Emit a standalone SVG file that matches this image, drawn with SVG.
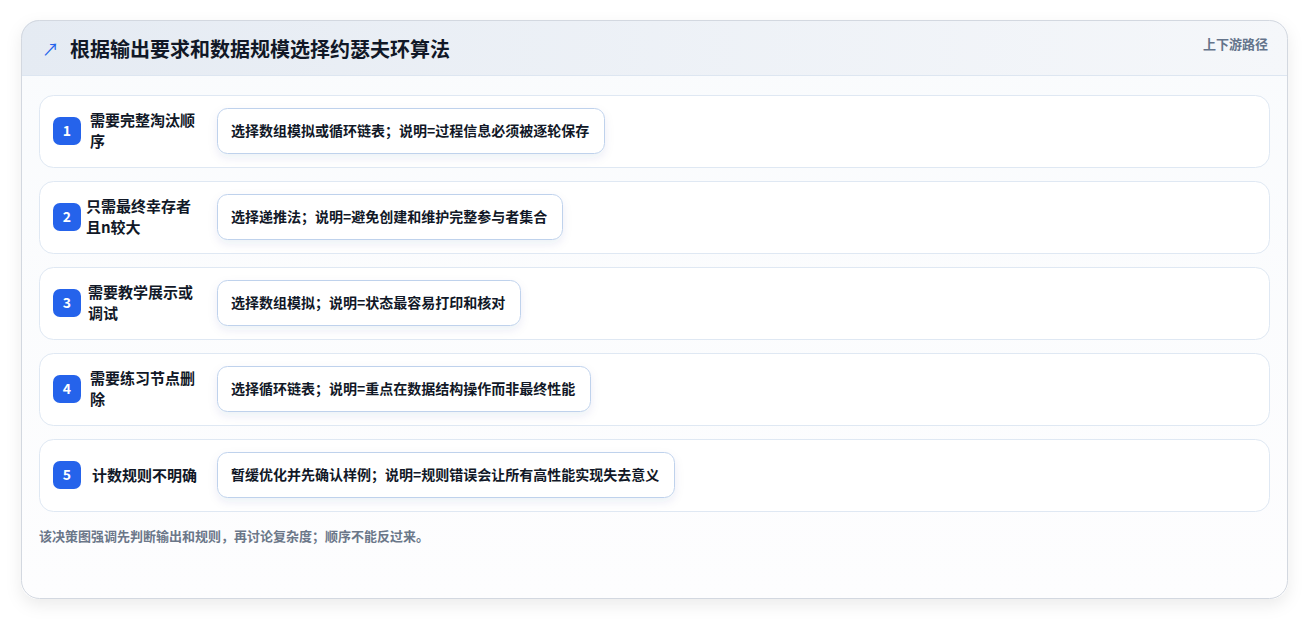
<svg xmlns="http://www.w3.org/2000/svg" width="1309" height="620" viewBox="0 0 1309 620">
<defs>
<style>
text{font-family:"Noto Sans CJK SC","Noto Sans",sans-serif;}
.title{font-size:20px;font-weight:700;fill:#111827;}
.tag{font-size:13px;font-weight:600;fill:#64748b;}
.row{fill:#ffffff;stroke:#dfe8f3;stroke-width:1;}
.badge{fill:#2563eb;}
.num{font-size:14px;font-weight:700;fill:#ffffff;text-anchor:middle;}
.lbl{font-size:15px;font-weight:700;fill:#111827;}
.box{fill:#ffffff;stroke:#bfd2ec;stroke-width:1;}
.btxt{font-size:14px;font-weight:700;fill:#111827;}
.foot{font-size:13px;font-weight:700;fill:#6b7789;}
</style>
<linearGradient id="hdr" x1="0" y1="0" x2="1" y2="0">
<stop offset="0" stop-color="#e5ebf3"/>
<stop offset="1" stop-color="#f5f7fa"/>
</linearGradient>
<linearGradient id="cardbg" x1="0" y1="0" x2="0" y2="1">
<stop offset="0" stop-color="#f9fbfd"/>
<stop offset="1" stop-color="#fdfdfe"/>
</linearGradient>
<filter id="sh" x="-10%" y="-10%" width="120%" height="130%">
<feDropShadow dx="0" dy="6" stdDeviation="8" flood-color="#0f172a" flood-opacity="0.08"/>
</filter>
<filter id="bsh" x="-10%" y="-30%" width="120%" height="170%">
<feDropShadow dx="0" dy="4" stdDeviation="5" flood-color="#1e3a8a" flood-opacity="0.08"/>
</filter>
<clipPath id="cardclip"><rect x="21" y="20" width="1267" height="579" rx="18"/></clipPath>
</defs>
<rect width="1309" height="620" fill="#ffffff"/>
<g id="card">
<rect x="21" y="20" width="1267" height="579" rx="18" fill="url(#cardbg)" filter="url(#sh)"/>
<g clip-path="url(#cardclip)">
<rect x="21" y="20" width="1267" height="55" fill="url(#hdr)"/>
<line x1="21" y1="75.5" x2="1288" y2="75.5" stroke="#dde6f1" stroke-width="1"/>
</g>
<rect x="21.5" y="20.5" width="1266" height="578" rx="18" fill="none" stroke="#d3d8e0" stroke-width="1"/>
</g>
<g id="header">
<text x="42" y="56" font-size="17" font-weight="400" fill="#2563eb" font-family="DejaVu Sans, sans-serif">↗</text>
<text class="title" x="70" y="57">根据输出要求和数据规模选择约瑟夫环算法</text>
<text class="tag" x="1268" y="49" text-anchor="end">上下游路径</text>
</g>
<g id="row1">
<rect class="row" x="39.5" y="95.5" width="1230" height="72" rx="14"/>
<rect class="badge" x="53" y="117" width="28" height="28" rx="7"/>
<text class="num" x="67" y="136">1</text>
<text class="lbl" x="90" y="126">需要完整淘汰顺</text>
<text class="lbl" x="90" y="147">序</text>
<rect class="box" x="217.5" y="108.5" width="387" height="45" rx="10" filter="url(#bsh)"/>
<text class="btxt" x="231" y="136">选择数组模拟或循环链表；说明=过程信息必须被逐轮保存</text>
</g>
<g id="row2">
<rect class="row" x="39.5" y="181.5" width="1230" height="72" rx="14"/>
<rect class="badge" x="53" y="203" width="28" height="28" rx="7"/>
<text class="num" x="67" y="222">2</text>
<text class="lbl" x="86" y="212">只需最终幸存者</text>
<text class="lbl" x="86" y="233">且n较大</text>
<rect class="box" x="217.5" y="194.5" width="345" height="45" rx="10" filter="url(#bsh)"/>
<text class="btxt" x="231" y="222">选择递推法；说明=避免创建和维护完整参与者集合</text>
</g>
<g id="row3">
<rect class="row" x="39.5" y="267.5" width="1230" height="72" rx="14"/>
<rect class="badge" x="53" y="289" width="28" height="28" rx="7"/>
<text class="num" x="67" y="308">3</text>
<text class="lbl" x="88" y="298">需要教学展示或</text>
<text class="lbl" x="88" y="319">调试</text>
<rect class="box" x="217.5" y="280.5" width="303" height="45" rx="10" filter="url(#bsh)"/>
<text class="btxt" x="231" y="308">选择数组模拟；说明=状态最容易打印和核对</text>
</g>
<g id="row4">
<rect class="row" x="39.5" y="353.5" width="1230" height="72" rx="14"/>
<rect class="badge" x="53" y="375" width="28" height="28" rx="7"/>
<text class="num" x="67" y="394">4</text>
<text class="lbl" x="90" y="384">需要练习节点删</text>
<text class="lbl" x="90" y="405">除</text>
<rect class="box" x="217.5" y="366.5" width="373" height="45" rx="10" filter="url(#bsh)"/>
<text class="btxt" x="231" y="394">选择循环链表；说明=重点在数据结构操作而非最终性能</text>
</g>
<g id="row5">
<rect class="row" x="39.5" y="439.5" width="1230" height="72" rx="14"/>
<rect class="badge" x="53" y="461" width="28" height="28" rx="7"/>
<text class="num" x="67" y="480">5</text>
<text class="lbl" x="92" y="481">计数规则不明确</text>
<rect class="box" x="217.5" y="452.5" width="457" height="45" rx="10" filter="url(#bsh)"/>
<text class="btxt" x="231" y="480">暂缓优化并先确认样例；说明=规则错误会让所有高性能实现失去意义</text>
</g>
<g id="connectors"></g>
<g id="footer">
<text class="foot" x="39" y="541">该决策图强调先判断输出和规则，再讨论复杂度；顺序不能反过来。</text>
</g>
</svg>
